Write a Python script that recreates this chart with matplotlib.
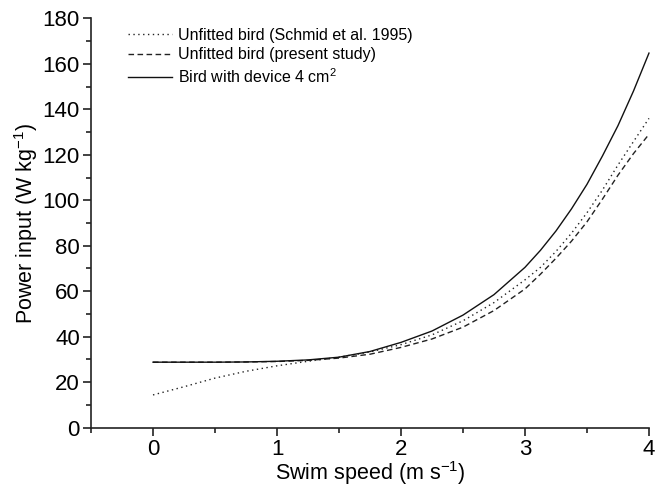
import matplotlib
matplotlib.use("Agg")
import matplotlib.pyplot as plt
from matplotlib.ticker import MultipleLocator, FixedLocator

speed = [0, 0.25, 0.5, 0.75, 1, 1.25, 1.5, 1.75, 2, 2.25, 2.5, 2.75, 3,
         3.125, 3.25, 3.375, 3.5, 3.625, 3.75, 3.875, 4]
unfitted_schmid = [14.4, 18.0, 21.8, 24.8, 27.2, 29.2, 31.0, 33.3, 36.5, 40.8, 47.0, 55.0, 65.0,
                   70.5, 77.5, 85.5, 94.5, 104.5, 115.5, 125.8, 136.0]
unfitted_present = [28.8, 28.8, 28.8, 28.9, 29.1, 29.6, 30.6, 32.3, 35.3, 39.0, 44.2, 51.5, 61.0,
                    67.5, 74.5, 82.0, 90.5, 100.5, 111.0, 120.5, 129.0]
with_device = [28.8, 28.8, 28.8, 28.9, 29.2, 29.8, 31.0, 33.5, 37.5, 42.5, 49.5, 58.5, 70.5,
               78.0, 86.5, 96.2, 107.0, 119.5, 132.8, 148.0, 164.7]

labels = ["Unfitted bird (Schmid et al. 1995)",
          "Unfitted bird (present study)",
          "Bird with device 4 cm$^{2}$"]

plt.rcParams['font.family'] = ['Liberation Sans', 'DejaVu Sans']
plt.rcParams['mathtext.fontset'] = 'custom'
plt.rcParams['mathtext.rm'] = 'Liberation Sans'
plt.rcParams['mathtext.it'] = 'Liberation Sans'
plt.rcParams['mathtext.default'] = 'regular'

fig = plt.figure(figsize=(6.61, 4.88), dpi=100)
ax = fig.add_axes([0.1377, 0.1236, 0.8441, 0.8389])

ax.plot(speed, unfitted_schmid, color='#222222', lw=1.0, linestyle=(0, (1, 2.5)), label=labels[0], clip_on=False)
ax.plot(speed, unfitted_present, color='#222222', lw=1.0, linestyle=(0, (4, 2.5)), label=labels[1], clip_on=False)
ax.plot(speed, with_device, color='#111111', lw=1.0, linestyle='-', label=labels[2], clip_on=False)

ax.set_xlim(-0.5, 4)
ax.set_ylim(0, 180)
ax.xaxis.set_major_locator(FixedLocator([0, 1, 2, 3, 4]))
ax.xaxis.set_minor_locator(FixedLocator([-0.5, 0.5, 1.5, 2.5, 3.5]))
ax.yaxis.set_major_locator(MultipleLocator(20))
ax.yaxis.set_minor_locator(MultipleLocator(10))

for s in ['top', 'right']:
    ax.spines[s].set_visible(False)
for s in ['left', 'bottom']:
    ax.spines[s].set_linewidth(1.2)
    ax.spines[s].set_color('#222222')

ax.tick_params(which='major', direction='out', length=6, width=1.2, labelsize=16, color='#222222', pad=2)
ax.tick_params(which='minor', direction='out', length=3.5, width=1.2, color='#222222')

ax.set_xlabel("Swim speed (m s$^{-1}$)", fontsize=15.5, labelpad=-0.5)
ax.set_ylabel("Power input (W kg$^{-1}$)", fontsize=15.5, labelpad=2)

leg = ax.legend(loc='upper left', bbox_to_anchor=(0.055, 0.993), frameon=False, fontsize=11.5,
                handlelength=2.75, handletextpad=0.4, labelspacing=0.3, borderaxespad=0)

fig.savefig("out.png", dpi=100)
